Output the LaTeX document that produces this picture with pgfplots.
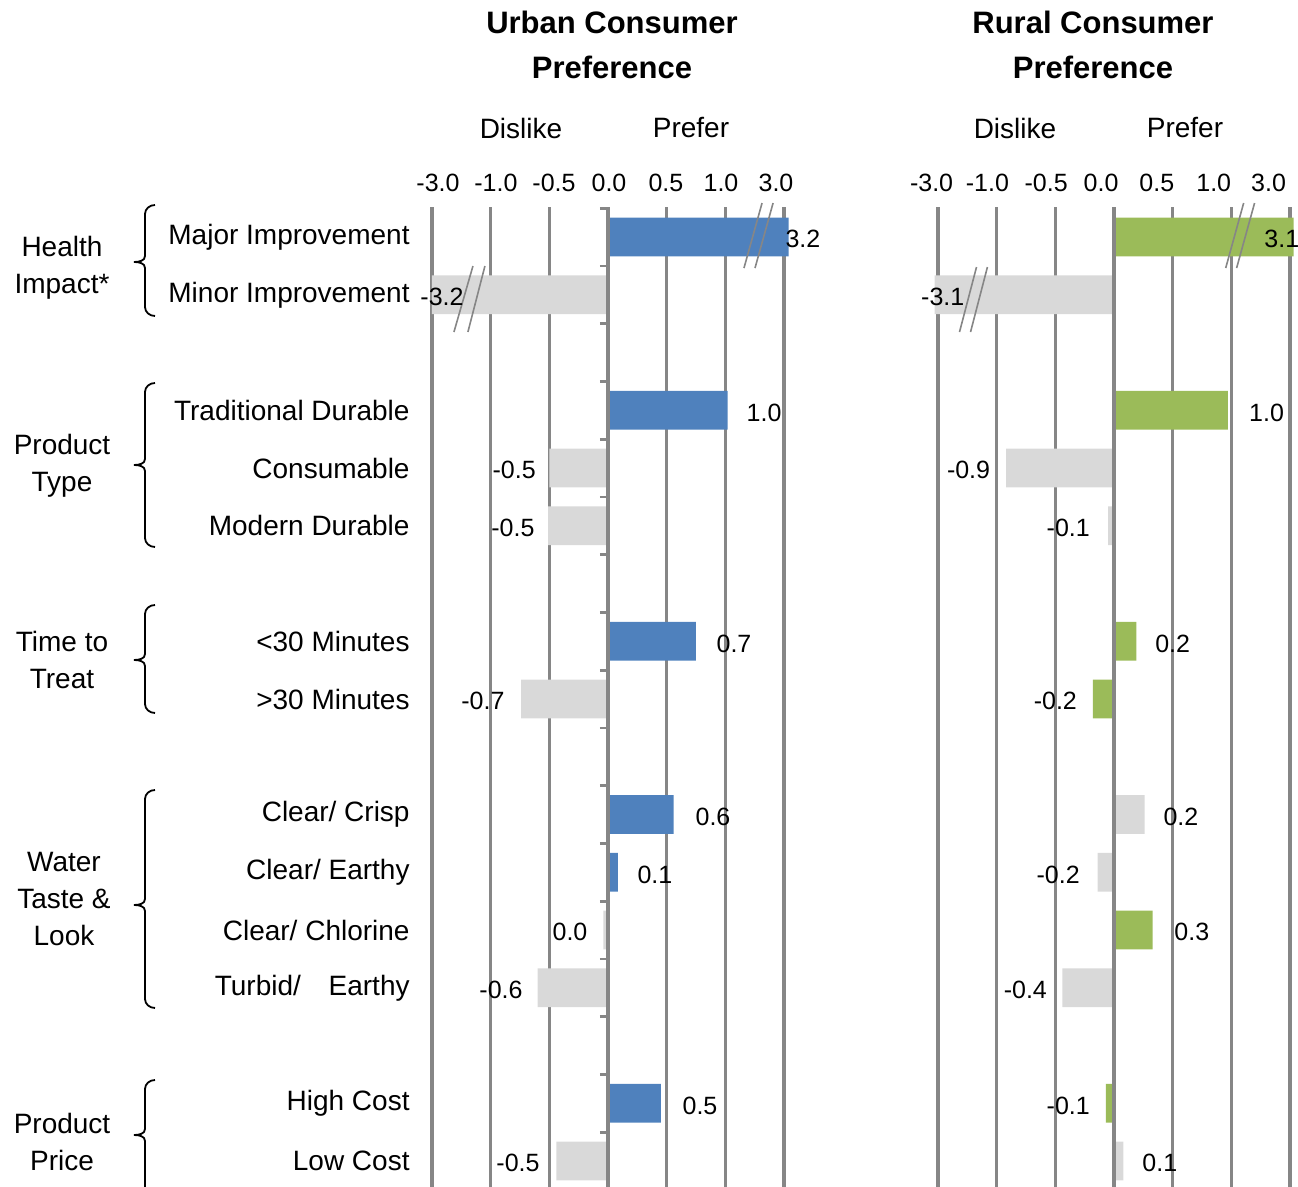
\documentclass[border=0pt]{standalone}
\usepackage{fontspec}
\setmainfont{Liberation Sans}
\usepackage{pgfplots}
\pgfplotsset{compat=1.18}
\definecolor{barblue}{RGB}{79,129,189}
\definecolor{bargreen}{RGB}{155,187,89}
\definecolor{bargray}{RGB}{217,217,217}
\definecolor{gridgray}{RGB}{134,134,134}
\newcommand\vlab{\fontsize{12.5}{14}\selectfont}
\newcommand\catf{\fontsize{14}{18.5}\selectfont}

\pgfplotsset{
  panel/.style={
    scale only axis, width=176pt, height=490pt,
    xmin=-1.5, xmax=1.5, ymin=-0.52, ymax=16.45, y dir=reverse,
    axis line style={draw=none}, clip=false,
    major tick length=0pt,
    xticklabel pos=upper,
    xticklabel style={font=\vlab, yshift=4pt},
    extra x ticks={-1.5,-1,-0.5,0,0.5,1,1.5},
    extra x tick labels={},
    extra x tick style={xmajorgrids=true, major grid style={gridgray, line width=1.6pt}},
    xmajorgrids=false,
    xbar, bar shift=0pt, bar width=0.67,
  },
}

\begin{document}
\begin{tikzpicture}
\useasboundingbox (0,0) rectangle (649pt,-593.5pt);

% ---------------- Urban ----------------
\begin{axis}[panel,
  at={(216pt,-593.5pt)}, anchor=south west,
  xtick={-1.449,-0.955,-0.460,0.0085,0.494,0.963,1.432},
  xticklabels={-3.0,-1.0,-0.5,0.0,0.5,1.0,3.0},
  ytick={0,1,3,4,5,7,8,10,11,12,13,15,16},
  yticklabels={Major Improvement,Minor Improvement,Traditional Durable,Consumable,Modern Durable,{<30 Minutes},{>30 Minutes},Clear/ Crisp,Clear/ Earthy,Clear/ Chlorine,{Turbid/\hspace{10pt} Earthy},High Cost,Low Cost},
  yticklabel style={font=\catf, anchor=east, inner sep=0pt, xshift=-11pt},
]
\addplot[fill=barblue, draw=none] coordinates {
 (1.54,0) (1.02,3) (0.75,7) (0.56,10) (0.085,11) (0.45,15)};
\addplot[fill=bargray, draw=none] coordinates {
 (-1.5,1) (-0.5,4) (-0.51,5) (-0.74,8) (-0.04,12) (-0.6,13) (-0.44,16)};
% zero line on top
\draw[gridgray, line width=1.6pt] (axis cs:0,-0.52) -- (axis cs:0,16.45);
\pgfplotsinvokeforeach{-0.5,0.5,1.5,2.5,3.5,4.5,5.5,6.5,7.5,8.5,9.5,10.5,11.5,12.5,13.5,14.5,15.5}{
  \draw[gridgray, line width=1.4pt] (axis cs:-0.07,#1) -- (axis cs:0,#1);
}
% break marks
\draw[gridgray, line width=0.8pt] (axis cs:1.159,0.537) -- (axis cs:1.313,-0.589);
\draw[gridgray, line width=0.8pt] (axis cs:1.253,0.537) -- (axis cs:1.407,-0.589);
\draw[gridgray, line width=0.8pt] (axis cs:-1.313,1.645) -- (axis cs:-1.151,0.502);
\draw[gridgray, line width=0.8pt] (axis cs:-1.194,1.645) -- (axis cs:-1.049,0.502);
% value labels
\node[font=\vlab, anchor=west, inner sep=0pt] at (axis cs:1.51,0.04) {3.2};
\node[font=\vlab] at (axis cs:-1.415,1.04) {-3.2};
\node[font=\vlab] at (axis cs:1.33,3.04) {1.0};
\node[font=\vlab] at (axis cs:-0.80,4.04) {-0.5};
\node[font=\vlab] at (axis cs:-0.81,5.04) {-0.5};
\node[font=\vlab] at (axis cs:1.074,7.04) {0.7};
\node[font=\vlab] at (axis cs:-1.066,8.04) {-0.7};
\node[font=\vlab] at (axis cs:0.895,10.04) {0.6};
\node[font=\vlab] at (axis cs:0.40,11.04) {0.1};
\node[font=\vlab] at (axis cs:-0.324,12.04) {0.0};
\node[font=\vlab] at (axis cs:-0.912,13.04) {-0.6};
\node[font=\vlab] at (axis cs:0.784,15.04) {0.5};
\node[font=\vlab] at (axis cs:-0.767,16.04) {-0.5};
\end{axis}

% ---------------- Rural ----------------
\begin{axis}[panel,
  xmin=-1.56, width=179.5pt,
  at={(465.5pt,-593.5pt)}, anchor=south west,
  xtick={-1.555,-1.079,-0.578,-0.110,0.365,0.850,1.317},
  xticklabels={-3.0,-1.0,-0.5,0.0,0.5,1.0,3.0},
  ytick=\empty,
]
\addplot[fill=bargreen, draw=none] coordinates {
 (1.53,0) (0.97,3) (0.19,7) (-0.18,8) (0.33,12) (-0.07,15)};
\addplot[fill=bargray, draw=none] coordinates {
 (-1.53,1) (-0.92,4) (-0.05,5) (0.26,10) (-0.14,11) (-0.44,13) (0.08,16)};
\draw[gridgray, line width=1.6pt] (axis cs:0,-0.52) -- (axis cs:0,16.45);
% break marks
\draw[gridgray, line width=0.8pt] (axis cs:0.952,0.537) -- (axis cs:1.105,-0.589);
\draw[gridgray, line width=0.8pt] (axis cs:1.045,0.537) -- (axis cs:1.198,-0.589);
\draw[gridgray, line width=0.8pt] (axis cs:-1.317,1.645) -- (axis cs:-1.172,0.519);
\draw[gridgray, line width=0.8pt] (axis cs:-1.223,1.645) -- (axis cs:-1.079,0.519);
% value labels
\node[font=\vlab] at (axis cs:1.43,0.04) {3.1};
\node[font=\vlab] at (axis cs:-1.46,1.04) {-3.1};
\node[font=\vlab] at (axis cs:1.30,3.04) {1.0};
\node[font=\vlab] at (axis cs:-1.24,4.04) {-0.9};
\node[font=\vlab] at (axis cs:-0.39,5.04) {-0.1};
\node[font=\vlab] at (axis cs:0.50,7.04) {0.2};
\node[font=\vlab] at (axis cs:-0.50,8.04) {-0.2};
\node[font=\vlab] at (axis cs:0.57,10.04) {0.2};
\node[font=\vlab] at (axis cs:-0.476,11.04) {-0.2};
\node[font=\vlab] at (axis cs:0.663,12.04) {0.3};
\node[font=\vlab] at (axis cs:-0.756,13.04) {-0.4};
\node[font=\vlab] at (axis cs:-0.39,15.04) {-0.1};
\node[font=\vlab] at (axis cs:0.39,16.04) {0.1};
\end{axis}

% ---------------- decorations in pixel units ----------------
\begin{scope}[x=0.5pt, y=-0.5pt]
\node[font=\fontsize{15.5}{22.5}\selectfont\bfseries, align=center] at (612,45) {Urban Consumer\\Preference};
\node[font=\fontsize{15.5}{22.5}\selectfont\bfseries, align=center] at (1093,45) {Rural Consumer\\Preference};
\node[font=\catf] at (521,128) {Dislike};
\node[font=\catf] at (691,128) {Prefer};
\node[font=\catf] at (1015,128) {Dislike};
\node[font=\catf] at (1185,128) {Prefer};

\node[font=\catf, align=center] at (62,268) {Health\\Impact*};
\node[font=\catf, align=center] at (62,466) {Product\\Type};
\node[font=\catf, align=center] at (62,660) {Time to\\Treat};
\node[font=\catf, align=center] at (64,899) {Water\\Taste \&\\Look};
\node[font=\catf, align=center] at (62,1142) {Product\\Price};

\foreach \T/\M/\B in {205/262/316, 383/465/547, 605/660/713, 790/905/1008, 1080/1135/1240}{
  \draw[black, line width=0.9pt]
    (155,\T) to[out=180,in=90] (145,\T+9) -- (145,\M-6) to[out=-90,in=0] (134,\M)
    to[out=0,in=90] (145,\M+6) -- (145,\B-9) to[out=-90,in=180] (155,\B);
}
\end{scope}
\end{tikzpicture}
\end{document}
